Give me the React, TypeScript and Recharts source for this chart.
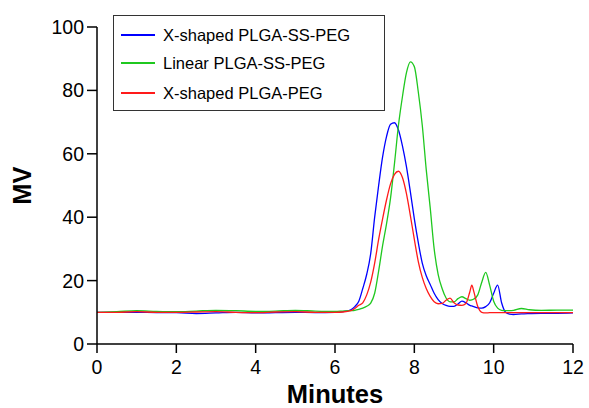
import { LineChart, Line, XAxis, YAxis, Legend, Label } from 'recharts'

const minutes = [
  0, 0.5, 1, 1.5, 2, 2.5, 3, 3.5, 4, 4.5, 5, 5.5, 6, 6.2, 6.4, 6.5, 6.6, 6.7, 6.8, 6.9,
  7.0, 7.1, 7.2, 7.3, 7.4, 7.5, 7.6, 7.7, 7.8, 7.9, 8.0, 8.1, 8.2, 8.3, 8.4, 8.5, 8.6, 8.7,
  8.8, 8.9, 9.0, 9.1, 9.2, 9.3, 9.4, 9.45, 9.5, 9.6, 9.7, 9.8, 9.9, 10.0, 10.1, 10.2, 10.3,
  10.4, 10.5, 10.7, 10.9, 11.2, 11.6, 12,
]

const xShapedSS = [
  10, 10, 10, 9.9, 9.9, 9.6, 9.8, 10, 9.8, 9.9, 10, 9.9, 10, 10.2, 10.8, 11.8, 13.5, 17.5, 22, 28.5,
  40, 50, 59, 65.5, 69.3, 69.8, 67.5, 62.5, 56, 48, 39.5, 32, 25.5, 21.5, 18.8, 16, 14, 12.8,
  12.2, 11.9, 11.9, 12.6, 13.5, 13, 12.2, 12, 11.8, 11.4, 11.3, 11.8, 13, 16, 18.6, 13, 10,
  9.4, 9.3, 9.5, 9.6, 9.7, 9.7, 9.8,
]

const linearSS = [
  10, 10.2, 10.5, 10.3, 10.2, 10.4, 10.6, 10.5, 10.3, 10.4, 10.6, 10.4, 10.3, 10.4, 10.5, 10.6, 10.9, 11.3, 11.9, 12.9,
  16, 23, 31, 38, 46, 57, 69, 78, 85.5, 89, 87.5, 79.5, 69, 55, 43, 30, 22, 17.5,
  14.5, 13.3, 13.3, 14.3, 14.9, 14.3, 13.8, 13.9, 14.2, 15.5, 19.5, 22.6, 18.5, 13.5, 11.3, 10.6, 10.5,
  10.5, 10.6, 11.2, 10.8, 10.6, 10.7, 10.7,
]

const xShaped = [
  10, 10, 10.2, 10, 10, 10.1, 10.2, 10, 9.9, 10.1, 10.2, 10, 10, 10.1, 10.5, 11.2, 12.2, 13, 15.5, 19.5,
  25.5, 33, 39.5, 45.5, 50.5, 53.5, 54.5, 52.5, 47.5, 40.5, 33, 26, 21, 17.5, 15, 13.3, 12.7, 12.8,
  13.8, 14.5, 13, 12.3, 12.2, 12.8, 16.5, 18.6, 16.5, 11.8, 10, 9.8, 9.9, 9.9, 9.9, 9.9, 9.9,
  9.9, 9.9, 9.9, 9.9, 9.9, 9.9, 9.9,
]

const seriesNames = ['X-shaped PLGA-SS-PEG', 'Linear PLGA-SS-PEG', 'X-shaped PLGA-PEG']
const seriesColors = ['#0000ff', '#1fc81f', '#ff1a1a']
const xTicks = [0, 2, 4, 6, 8, 10, 12]
const yTicks = [0, 20, 40, 60, 80, 100]

const data = minutes.map((t, i) => ({
  t,
  a: xShapedSS[i],
  b: linearSS[i],
  c: xShaped[i],
}))

const FONT = '"Liberation Sans", Arial, sans-serif'

function LegendBox() {
  const rows = [19, 47, 77]
  return (
    <div
      style={{
        width: 272,
        height: 96,
        boxSizing: 'border-box',
        border: '1.5px solid #333',
        background: '#fff',
        position: 'relative',
        fontFamily: FONT,
        fontSize: 16.5,
        color: '#000',
      }}
    >
      {seriesNames.map((name, i) => (
        <div
          key={name}
          style={{ position: 'absolute', left: 7, top: rows[i] - 11, height: 22, display: 'flex', alignItems: 'center' }}
        >
          <div style={{ width: 34, height: 1.4, background: seriesColors[i] }} />
          <span style={{ marginLeft: 8, whiteSpace: 'nowrap' }}>{name}</span>
        </div>
      ))}
    </div>
  )
}

export default function App() {
  const tickStyle = { fill: '#000', fontSize: 19.5, fontFamily: FONT }
  const axisLine = { stroke: '#000', strokeWidth: 1.5 }
  const titleStyle = { fill: '#000', fontSize: 25.5, fontWeight: 'bold', fontFamily: FONT }
  return (
    <div style={{ position: 'absolute', left: 0, top: 0, background: '#fff' }}>
      <LineChart width={589} height={408} data={data} margin={{ top: 27, right: 16, bottom: 0, left: 0 }}>
        <XAxis
          dataKey='t'
          type='number'
          domain={[0, 12]}
          ticks={xTicks}
          height={64}
          tickSize={9}
          tickMargin={7}
          tick={tickStyle}
          axisLine={axisLine}
          tickLine={axisLine}
        >
          <Label value='Minutes' position='insideBottom' offset={5} style={titleStyle} />
        </XAxis>
        <YAxis
          type='number'
          domain={[0, 100]}
          ticks={yTicks}
          width={97}
          tickSize={10}
          tickMargin={3}
          tick={tickStyle}
          axisLine={axisLine}
          tickLine={axisLine}
        >
          <Label
            value='MV'
            angle={-90}
            position='insideLeft'
            offset={22}
            style={{ ...titleStyle, textAnchor: 'middle' }}
          />
        </YAxis>
        <Legend
          layout='vertical'
          verticalAlign='middle'
          align='center'
          wrapperStyle={{ top: 15, left: 113, width: 272 }}
          content={() => <LegendBox />}
        />
        <Line type='monotone' dataKey='a' stroke={seriesColors[0]} strokeWidth={1.3} dot={false} isAnimationActive={false} />
        <Line type='monotone' dataKey='b' stroke={seriesColors[1]} strokeWidth={1.3} dot={false} isAnimationActive={false} />
        <Line type='monotone' dataKey='c' stroke={seriesColors[2]} strokeWidth={1.3} dot={false} isAnimationActive={false} />
      </LineChart>
    </div>
  )
}
